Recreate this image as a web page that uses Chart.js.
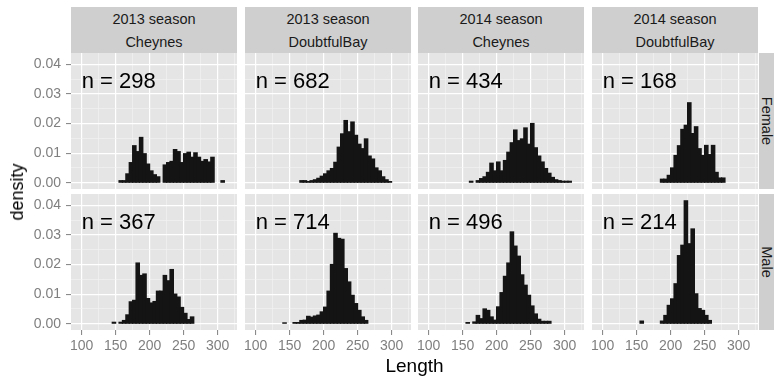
<!DOCTYPE html>
<html>
<head>
<meta charset="utf-8">
<script src="https://cdn.jsdelivr.net/npm/chart.js@4.4.0/dist/chart.umd.min.js"></script>
<style>
  html, body { margin: 0; padding: 0; background: #fff; }
  #fig { position: relative; width: 774px; height: 379px; overflow: hidden;
         font-family: 'Liberation Sans', Arial, sans-serif; }
  .cell { position: absolute; }
  .strip { position: absolute; background: #cfcfcf; color: #1a1a1a; font-size: 14.5px;
           text-align: center; overflow: hidden; }
  .strip .ln { position: absolute; left: 0; right: 0; height: 23px; line-height: 23px; }
  .vlab { position: absolute; white-space: nowrap; }
</style>
</head>
<body>
<div id="fig"></div>
<script>
// ---------- datos (densidad por clase de 5 mm) ----------
const binMids = [142.5, 147.5, 152.5, 157.5, 162.5, 167.5, 172.5, 177.5, 182.5, 187.5,
                 192.5, 197.5, 202.5, 207.5, 212.5, 217.5, 222.5, 227.5, 232.5, 237.5,
                 242.5, 247.5, 252.5, 257.5, 262.5, 267.5, 272.5, 277.5, 282.5, 287.5,
                 292.5, 297.5, 302.5, 307.5];

const fem2013Cheynes = [0, 0, 0, 0.0007, 0.0007, 0.0030, 0.0068, 0.0125, 0.0105, 0.0153,
                        0.0098, 0.0063, 0.0040, 0.0027, 0.0020, 0, 0.0060, 0.0068, 0.0072, 0.0112,
                        0.0105, 0.0068, 0.0098, 0.0103, 0.0086, 0.0101, 0.0086, 0.0072, 0.0078, 0.0070,
                        0.0086, 0, 0, 0.0007];
const fem2013Doubtful = [0, 0, 0, 0, 0, 0.0007, 0.0007, 0.0004, 0.0007, 0.0010,
                         0.0015, 0.0022, 0.0030, 0.0040, 0.0048, 0.0069, 0.0120, 0.0165, 0.0210, 0.0172,
                         0.0205, 0.0160, 0.0130, 0.0115, 0.0148, 0.0090, 0.0080, 0.0050, 0.0040, 0.0020,
                         0.0010, 0.0004, 0, 0];
const fem2014Cheynes = [0, 0, 0, 0, 0.0005, 0, 0.0007, 0.0014, 0.0020, 0.0035,
                        0.0066, 0.0040, 0.0070, 0.0040, 0.0075, 0.0103, 0.0135, 0.0178, 0.0142, 0.0148,
                        0.0185, 0.0130, 0.0200, 0.0118, 0.0090, 0.0070, 0.0048, 0.0032, 0.0018, 0.0010,
                        0.0007, 0.0005, 0.0005, 0.0005];
const fem2014Doubtful = [0, 0, 0, 0, 0, 0, 0, 0, 0, 0.0012,
                         0.0012, 0.0025, 0.0050, 0.0092, 0.0125, 0.0180, 0.0194, 0.0270, 0.0166, 0.0189,
                         0.0115, 0.0092, 0.0126, 0.0095, 0.0126, 0.0035, 0.0016, 0.0016, 0, 0,
                         0, 0, 0, 0];
const male2013Cheynes = [0, 0.0005, 0, 0.0005, 0.0011, 0.0030, 0.0074, 0.0079, 0.0205, 0.0163,
                         0.0168, 0.0085, 0.0070, 0.0075, 0.0110, 0.0110, 0.0163, 0.0145, 0.0183, 0.0100,
                         0.0090, 0.0055, 0.0035, 0.0014, 0.0023, 0, 0, 0, 0, 0,
                         0, 0, 0, 0];
const male2013Doubtful = [0.0003, 0, 0, 0.0004, 0.0004, 0.0011, 0.0012, 0.0025, 0.0022, 0.0026,
                          0.0029, 0.0040, 0.0056, 0.0110, 0.0200, 0.0305, 0.0288, 0.0285, 0.0186, 0.0141,
                          0.0096, 0.0068, 0.0045, 0.0023, 0.0011, 0, 0, 0, 0, 0,
                          0, 0, 0, 0];
const male2014Cheynes = [0, 0, 0, 0.0004, 0, 0.0006, 0.0028, 0.0017, 0.0050, 0.0045,
                         0.0023, 0.0012, 0.0057, 0.0105, 0.0160, 0.0205, 0.0310, 0.0262, 0.0228, 0.0165,
                         0.0130, 0.0096, 0.0060, 0.0033, 0.0015, 0.0008, 0.0008, 0.0008, 0, 0,
                         0, 0, 0, 0];
const male2014Doubtful = [0, 0, 0, 0.0009, 0, 0, 0, 0, 0, 0.0009,
                          0.0028, 0.0062, 0.0084, 0.0135, 0.0230, 0.0265, 0.0415, 0.0270, 0.0320, 0.0101,
                          0.0051, 0.0045, 0.0028, 0.0011, 0, 0, 0, 0, 0, 0,
                          0, 0, 0, 0];

const seasonLabels = ['2013 season', '2013 season', '2014 season', '2014 season'];
const siteLabels = ['Cheynes', 'DoubtfulBay', 'Cheynes', 'DoubtfulBay'];
const sexLabels = ['Female', 'Male'];
const nFemale = [298, 682, 434, 168];
const nMale = [367, 714, 496, 214];

const xTicks = [100, 150, 200, 250, 300];
const yTicks = [0, 0.01, 0.02, 0.03, 0.04];

// ---------- layout / estilo ----------
const FONT = "'Liberation Sans', Arial, sans-serif";
const X_MIN = 84.3, X_MAX = 328.6;
const Y_MIN = -0.0021, Y_MAX = 0.0438;
const LABEL_AT = [100, 0.034];     // donde va "n = ..."
const PANEL_X = [71, 245, 418, 592];
const PANEL_Y = [53, 194];
const PANEL_W = 166, PANEL_H = 136;
const Y_AXIS_W = 45, X_AXIS_H = 30;
const PANEL_BG = '#e5e5e5';
const BAR_COL = '#141414';
const TICK_COL = '#7f7f7f';

const rows = [
  [fem2013Cheynes, fem2013Doubtful, fem2014Cheynes, fem2014Doubtful],
  [male2013Cheynes, male2013Doubtful, male2014Cheynes, male2014Doubtful]
];
const nRows = [nFemale, nMale];

// grilla: mayores + menores a mitad de camino
function withMinor(major, lo, hi) {
  const half = (major[1] - major[0]) / 2;
  const out = [];
  for (let v = major[0] - half; v <= major[major.length - 1] + half + 1e-9; v += half) {
    if (v >= lo && v <= hi) out.push(+v.toFixed(6));
  }
  return out;
}
const isMajor = (v, major) => major.some(m => Math.abs(m - v) < 1e-9);
const xGrid = withMinor(xTicks, X_MIN, X_MAX);
const yGrid = withMinor(yTicks, Y_MIN, Y_MAX);

const fig = document.getElementById('fig');

// fondo gris del panel
const panelBg = {
  id: 'panelBg',
  beforeDraw(chart) {
    const { ctx, chartArea: a } = chart;
    ctx.save();
    ctx.fillStyle = PANEL_BG;
    ctx.fillRect(a.left, a.top, a.right - a.left, a.bottom - a.top);
    ctx.restore();
  }
};

// texto "n = ..."
const nLabel = {
  id: 'nLabel',
  afterDatasetsDraw(chart, args, opts) {
    const { ctx, scales: { x, y } } = chart;
    ctx.save();
    ctx.font = `22px ${FONT}`;
    ctx.fillStyle = '#000';
    ctx.textAlign = 'left';
    ctx.textBaseline = 'middle';
    ctx.fillText(opts.text, x.getPixelForValue(LABEL_AT[0]), y.getPixelForValue(LABEL_AT[1]));
    ctx.restore();
  }
};

function gridOpts(major, showTicks) {
  return {
    color: (c) => isMajor(c.tick.value, major) ? '#ffffff' : '#f3f3f3',
    lineWidth: (c) => isMajor(c.tick.value, major) ? 1.2 : 0.6,
    drawTicks: showTicks,
    tickLength: 5,
    tickWidth: 1,
    tickColor: (c) => isMajor(c.tick.value, major) ? TICK_COL : 'rgba(0,0,0,0)',
    offset: false
  };
}

function makePanel(r, c) {
  const isLeft = c === 0, isBottom = r === 1;
  const padL = isLeft ? Y_AXIS_W : 0;
  const padB = isBottom ? X_AXIS_H : 0;
  const W = PANEL_W + padL, H = PANEL_H + padB;

  const wrap = document.createElement('div');
  wrap.className = 'cell';
  wrap.style.left = (PANEL_X[c] - padL) + 'px';
  wrap.style.top = PANEL_Y[r] + 'px';
  const cv = document.createElement('canvas');
  cv.width = W; cv.height = H;
  cv.style.width = W + 'px'; cv.style.height = H + 'px';
  wrap.appendChild(cv);
  fig.appendChild(wrap);

  const series = rows[r][c];
  const data = binMids.map((x, i) => ({ x, y: series[i] })).filter(p => p.y > 0);

  new Chart(cv, {
    type: 'bar',
    data: {
      datasets: [{
        data,
        backgroundColor: BAR_COL,
        borderWidth: 0,
        barPercentage: 1,
        categoryPercentage: 1,
        inflateAmount: 0.6
      }]
    },
    options: {
      responsive: false,
      animation: false,
      events: [],
      layout: { padding: 0 },
      plugins: {
        legend: { display: false },
        tooltip: { enabled: false },
        nLabel: { text: 'n = ' + nRows[r][c] }
      },
      scales: {
        x: {
          type: 'linear',
          min: X_MIN, max: X_MAX,
          offset: false,
          border: { display: false },
          grid: gridOpts(xTicks, isBottom),
          ticks: {
            display: isBottom,
            autoSkip: false,
            maxRotation: 0,
            padding: 3,
            color: TICK_COL,
            font: { family: FONT, size: 14 },
            callback: (v) => isMajor(v, xTicks) ? String(v) : ''
          },
          afterBuildTicks: (axis) => { axis.ticks = xGrid.map(v => ({ value: v })); },
          afterFit: (s) => {
            s.height = isBottom ? X_AXIS_H : 0;
            s.paddingLeft = s.paddingRight = s.paddingTop = s.paddingBottom = 0;
          }
        },
        y: {
          type: 'linear',
          min: Y_MIN, max: Y_MAX,
          border: { display: false },
          grid: gridOpts(yTicks, isLeft),
          ticks: {
            display: isLeft,
            autoSkip: false,
            padding: 5,
            color: TICK_COL,
            font: { family: FONT, size: 14 },
            callback: (v) => isMajor(v, yTicks) ? v.toFixed(2) : ''
          },
          afterBuildTicks: (axis) => { axis.ticks = yGrid.map(v => ({ value: v })); },
          afterFit: (s) => {
            s.width = isLeft ? Y_AXIS_W : 0;
            s.paddingLeft = s.paddingRight = s.paddingTop = s.paddingBottom = 0;
          }
        }
      }
    },
    plugins: [panelBg, nLabel]
  });
}

function addStrips() {
  // tiras superiores (temporada / sitio)
  for (let c = 0; c < 4; c++) {
    const s = document.createElement('div');
    s.className = 'strip';
    s.style.left = PANEL_X[c] + 'px';
    s.style.top = '7px';
    s.style.width = PANEL_W + 'px';
    s.style.height = (PANEL_Y[0] - 7) + 'px';
    [seasonLabels[c], siteLabels[c]].forEach((t, i) => {
      const ln = document.createElement('div');
      ln.className = 'ln';
      ln.style.top = (1 + i * 23) + 'px';
      ln.textContent = t;
      s.appendChild(ln);
    });
    fig.appendChild(s);
  }
  // tiras laterales (sexo)
  for (let r = 0; r < 2; r++) {
    const s = document.createElement('div');
    s.className = 'strip';
    s.style.left = (PANEL_X[3] + PANEL_W + 1) + 'px';
    s.style.top = PANEL_Y[r] + 'px';
    s.style.width = '24px';
    s.style.height = PANEL_H + 'px';
    const t = document.createElement('div');
    t.className = 'vlab';
    t.textContent = sexLabels[r];
    t.style.left = '8px';
    t.style.top = (PANEL_H / 2) + 'px';
    t.style.lineHeight = '16px';
    t.style.transform = 'translate(-50%, -50%) rotate(90deg)';
    s.appendChild(t);
    fig.appendChild(s);
  }
}

function addAxisTitles() {
  const yt = document.createElement('div');
  yt.className = 'vlab';
  yt.textContent = 'density';
  yt.style.fontSize = '18px';
  yt.style.lineHeight = '18px';
  yt.style.left = '17px';
  yt.style.top = ((PANEL_Y[0] + PANEL_Y[1] + PANEL_H) / 2) + 'px';
  yt.style.transform = 'translate(-50%, -50%) rotate(-90deg)';
  fig.appendChild(yt);

  const xt = document.createElement('div');
  xt.className = 'vlab';
  xt.textContent = 'Length';
  xt.style.fontSize = '19px';
  xt.style.lineHeight = '19px';
  xt.style.left = ((PANEL_X[0] + PANEL_X[3] + PANEL_W) / 2) + 'px';
  xt.style.top = '356px';
  xt.style.transform = 'translateX(-50%)';
  fig.appendChild(xt);
}

document.addEventListener('DOMContentLoaded', () => {
  addStrips();
  for (let r = 0; r < 2; r++) {
    for (let c = 0; c < 4; c++) makePanel(r, c);
  }
  addAxisTitles();
});
</script>
</body>
</html>
